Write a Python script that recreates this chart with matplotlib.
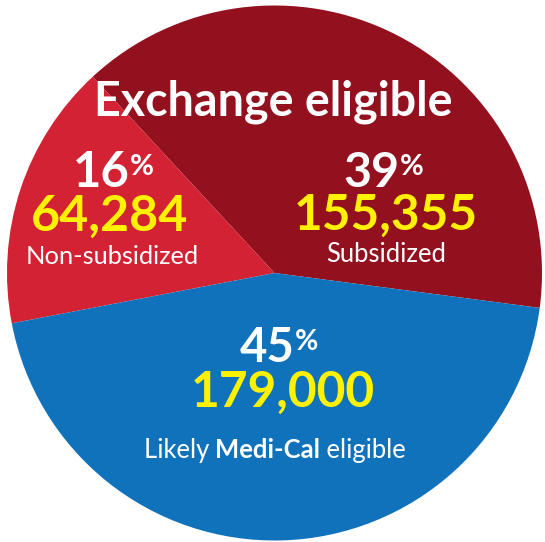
import matplotlib
matplotlib.use("Agg")
import matplotlib.pyplot as plt
from matplotlib.textpath import TextPath
from matplotlib.font_manager import FontProperties

# data
labels = ["Subsidized", "Non-subsidized", "Likely Medi-Cal eligible"]
counts = [155355, 64284, 179000]
shares = [39, 16, 45]
colors = ["#93111f", "#d22234", "#1172bc"]
group_title = "Exchange eligible"

W, H = 545, 542
FAMILY = ['Lato', 'DejaVu Sans']
plt.rcParams['font.family'] = FAMILY

fig = plt.figure(figsize=(W / 100, H / 100), dpi=100)
ax = fig.add_axes([0, 0, 1, 1])

# y axis runs downward so the pie is drawn clockwise here to look counter-clockwise
ax.pie(counts, colors=colors, center=(274.5, 273), radius=267.5,
       startangle=7.5, counterclock=False, frame=True,
       wedgeprops=dict(linewidth=0))
ax.set_xlim(0, W)
ax.set_ylim(H, 0)
ax.set_aspect('auto')
ax.axis('off')


def size_for(s, width, weight='normal'):
    # font size (pt) whose inked width is `width` pixels
    prop = FontProperties(family=FAMILY, weight=weight)
    ext = TextPath((0, 0), s, size=10, prop=prop).get_extents()
    return 10 * width / (ext.width * 100 / 72)


WHITE = "white"
YELLOW = "#fff200"

# group header
ax.text(273.5, 116, group_title, color=WHITE, fontweight='bold',
        ha='center', va='baseline',
        fontsize=size_for(group_title, 353, 'bold'))

# percent, count, label for each slice
pct_pos = [(400, 187), (130, 187), (295, 362)]
num_pos = [(386, 230, 178), (110, 231, 154), (283, 407, 180)]
lab_pos = [(386.5, 262, 117), (112.5, 264, 169)]

for i in range(3):
    x, y = pct_pos[i]
    fs = size_for(str(shares[i]), 52, 'bold')
    ax.text(x, y, str(shares[i]), color=WHITE, fontweight='bold',
            ha='right', va='baseline', fontsize=fs)
    ax.text(x, y - 33, "%", color=WHITE, fontweight='bold',
            ha='left', va='top', fontsize=fs * 0.6)
    x, y, w = num_pos[i]
    s = f"{counts[i]:,}"
    ax.text(x, y, s, color=YELLOW, fontweight='bold',
            ha='center', va='baseline', fontsize=size_for(s, w, 'bold'))

for i in range(2):
    x, y, w = lab_pos[i]
    ax.text(x, y, labels[i], color=WHITE, ha='center', va='baseline',
            fontsize=size_for(labels[i], w))

# mixed-weight label for the Medi-Cal slice
fig.canvas.draw()
renderer = fig.canvas.get_renderer()
parts = [("Likely ", 'normal'), ("Medi-Cal", 'bold'), (" eligible", 'normal')]
fs = 16
texts = [ax.text(0, 458, s, color=WHITE, fontweight=wt, ha='left',
                 va='baseline', fontsize=fs) for s, wt in parts]
widths = [t.get_window_extent(renderer).width for t in texts]
scale = 263 / sum(widths)
for t in texts:
    t.set_fontsize(fs * scale)
widths = [w * scale for w in widths]
x0 = 275 - sum(widths) / 2
for t, w in zip(texts, widths):
    t.set_x(x0)
    x0 += w

fig.savefig("out.png", dpi=100)
